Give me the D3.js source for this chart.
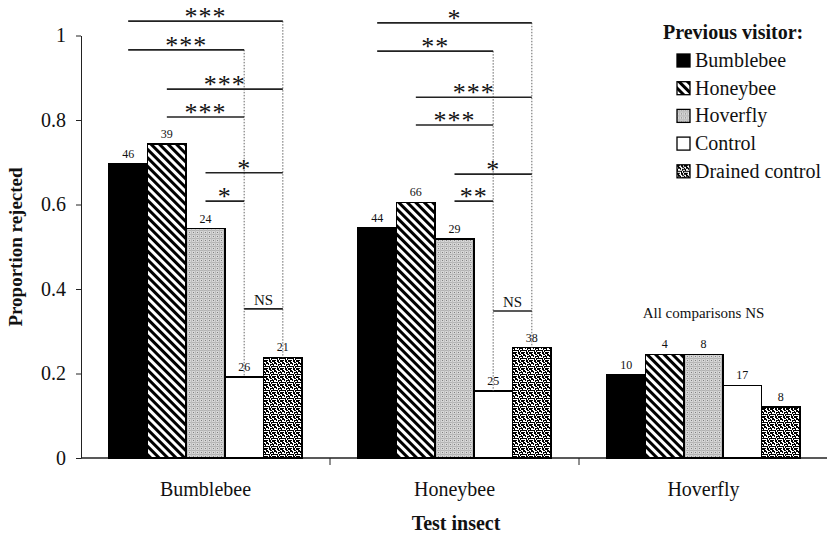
<!DOCTYPE html>
<html>
<head>
<meta charset="utf-8">
<script src="https://cdn.jsdelivr.net/npm/d3@7"></script>
<style>
  body { margin: 0; background: #fff; }
  svg text { font-family: "Liberation Serif", "Times New Roman", serif !important; fill: #111; }
</style>
</head>
<body>
<div id="chart"></div>
<script>
// Data
const testInsects = ["Bumblebee", "Honeybee", "Hoverfly"];
const visitors = ["Bumblebee", "Honeybee", "Hoverfly", "Control", "Drained control"];
const bumblebeeRejected = [0.697, 0.743, 0.543, 0.192, 0.238];
const honeybeeRejected = [0.544, 0.605, 0.518, 0.159, 0.261];
const hoverflyRejected = [0.196, 0.245, 0.245, 0.172, 0.121];
const bumblebeeN = [46, 39, 24, 26, 21];
const honeybeeN = [44, 66, 29, 25, 38];
const hoverflyN = [10, 4, 8, 17, 8];
// comparisons: [from visitor, to visitor, significance, bracket level]
const bumblebeeTests = [
  [0, 4, "***", 1.034], [0, 3, "***", 0.966], [1, 4, "***", 0.873], [1, 3, "***", 0.807],
  [2, 4, "*", 0.675], [2, 3, "*", 0.608], [3, 4, "NS", 0.353]
];
const honeybeeTests = [
  [0, 4, "*", 1.030], [0, 3, "**", 0.963], [1, 4, "***", 0.854], [1, 3, "***", 0.788],
  [2, 4, "*", 0.672], [2, 3, "**", 0.608], [3, 4, "NS", 0.348]
];
const hoverflyTests = [];
const yTicks = [0, 0.2, 0.4, 0.6, 0.8, 1];

const groups = testInsects.map((name, i) => ({
  name: name,
  values: [bumblebeeRejected, honeybeeRejected, hoverflyRejected][i],
  n: [bumblebeeN, honeybeeN, hoverflyN][i],
  tests: [bumblebeeTests, honeybeeTests, hoverflyTests][i]
}));

const width = 827;
const height = 534;
const serif = "'Liberation Serif', 'Times New Roman', serif";

const svg = d3.select("#chart")
  .append("svg")
    .attr("width", width)
    .attr("height", height)
    .style("font-family", serif);

/* patterns */
const defs = svg.append("defs");
const patterns = ["#000", "url(#hatch)", "url(#dots)", "#fff", "url(#drained)"];

defs.append("pattern")
    .attr("id", "hatch")
    .attr("patternUnits", "userSpaceOnUse")
    .attr("width", 6).attr("height", 6)
    .attr("patternTransform", "rotate(-45)")
  .call(p => {
    p.append("rect").attr("width", 6).attr("height", 6).attr("fill", "#fff");
    p.append("rect").attr("width", 3).attr("height", 6).attr("fill", "#000");
  });

defs.append("pattern")
    .attr("id", "dots")
    .attr("patternUnits", "userSpaceOnUse")
    .attr("width", 4).attr("height", 4)
  .call(p => {
    p.append("rect").attr("width", 4).attr("height", 4).attr("fill", "#d6d6d6");
    p.append("rect").attr("y", 2).attr("width", 4).attr("height", 1).attr("fill", "#b4b4b4");
    p.append("rect").attr("x", 2).attr("width", 1).attr("height", 4).attr("fill", "#bebebe");
    p.append("rect").attr("width", 1).attr("height", 1).attr("fill", "#808080");
  });

// squiggly black-on-white texture of the drained control bars
const drainedPath = "M0 0h3v1h-1v1h-2z M4 0h2v2h1v1h-2v-1h-1z M7 0h1v2h-1z " +
  "M1 2h2v1h1v2h-1v-1h-2z M5 4h3v1h-2v1h-1z M0 4h1v2h2v1h-3z " +
  "M3 6h2v2h-1v-1h-1z M6 6h2v1h-1v1h-1z M7 3h1v1h-1z";
defs.append("pattern")
    .attr("id", "drained")
    .attr("patternUnits", "userSpaceOnUse")
    .attr("width", 8).attr("height", 8)
  .call(p => {
    p.append("rect").attr("width", 8).attr("height", 8).attr("fill", "#fff");
    p.append("path").attr("d", drainedPath).attr("fill", "#000")
      .attr("shape-rendering", "crispEdges");
  });

const fillFor = i => patterns[i];

/* scales */
const y = d3.scaleLinear().domain([0, 1]).range([458, 35.5]);
const x0 = d3.scaleBand().domain(testInsects).range([81, 828]);
const x1 = d3.scaleBand().domain(d3.range(visitors.length))
  .range([0, x0.bandwidth()])
  .paddingInner(0).paddingOuter(0.72);
const barCenter = (g, i) => x0(g) + x1(i) + x1.bandwidth() / 2;

/* axes */
const leftAxis = d3.axisLeft(y)
  .tickValues(yTicks)
  .tickFormat(d => String(d))
  .tickSize(5)
  .tickSizeOuter(0)
  .tickPadding(10);
svg.append("g")
    .attr("class", "axis-y")
    .attr("transform", "translate(81,0)")
    .call(leftAxis)
  .call(g => g.attr("font-family", null))
  .call(g => g.selectAll("text").attr("font-size", 20).style("font-family", serif))
  .call(g => g.selectAll("line, path").attr("stroke", "#222"));

svg.append("line")
    .attr("x1", 81).attr("x2", width)
    .attr("y1", y(0)).attr("y2", y(0))
    .attr("stroke", "#222").attr("stroke-width", 1.3);

// group boundary ticks
svg.selectAll(".group-tick")
  .data(testInsects.slice(1))
  .join("line")
    .attr("x1", d => x0(d)).attr("x2", d => x0(d))
    .attr("y1", y(0)).attr("y2", y(0) + 7)
    .attr("stroke", "#222");

// category labels
svg.selectAll(".cat-label")
  .data(testInsects)
  .join("text")
    .attr("x", d => x0(d) + x0.bandwidth() / 2)
    .attr("y", 496)
    .attr("text-anchor", "middle")
    .attr("font-size", 20)
    .text(d => d);

svg.append("text")
    .attr("x", 456).attr("y", 530)
    .attr("text-anchor", "middle")
    .attr("font-size", 20).attr("font-weight", "bold")
    .text("Test insect");

svg.append("text")
    .attr("transform", "translate(22,247) rotate(-90)")
    .attr("text-anchor", "middle")
    .attr("font-size", 19).attr("font-weight", "bold")
    .text("Proportion rejected");

/* bars */
const groupG = svg.selectAll(".group")
  .data(groups)
  .join("g")
    .attr("class", "group")
    .attr("transform", d => `translate(${x0(d.name)},0)`);

groupG.selectAll("rect")
  .data(d => d.values.map((v, i) => ({ v: v, i: i, n: d.n[i] })))
  .join("rect")
    .attr("x", d => x1(d.i))
    .attr("y", d => y(d.v))
    .attr("width", x1.bandwidth())
    .attr("height", d => y(0) - y(d.v))
    .attr("fill", d => fillFor(d.i))
    .attr("stroke", "#000")
    .attr("stroke-width", 1.5)
    .attr("shape-rendering", "crispEdges");

groupG.selectAll(".count")
  .data(d => d.values.map((v, i) => ({ v: v, i: i, n: d.n[i] })))
  .join("text")
    .attr("class", "count")
    .attr("x", d => x1(d.i) + x1.bandwidth() / 2)
    .attr("y", d => y(d.v) - 6)
    .attr("text-anchor", "middle")
    .attr("font-size", 12)
    .text(d => d.n);

/* significance brackets */
groups.forEach(g => {
  if (!g.tests.length) return;
  const layer = svg.append("g");
  // dotted drop lines at the control and drained control bars
  [3, 4].forEach(k => {
    const top = d3.max(g.tests.filter(t => t[1] === k || t[0] === k), t => t[3]);
    layer.append("line")
      .attr("x1", barCenter(g.name, k)).attr("x2", barCenter(g.name, k))
      .attr("y1", y(top)).attr("y2", y(g.values[k]))
      .attr("stroke", "#666").attr("stroke-width", 1)
      .attr("stroke-dasharray", "1.5,1.5");
  });
  g.tests.forEach(t => {
    const xa = barCenter(g.name, t[0]);
    const xb = barCenter(g.name, t[1]);
    layer.append("line")
      .attr("x1", xa).attr("x2", xb)
      .attr("y1", y(t[3])).attr("y2", y(t[3]))
      .attr("stroke", "#222").attr("stroke-width", 1.6);
    const isNS = t[2] === "NS";
    layer.append("text")
      .attr("x", (xa + xb) / 2)
      .attr("y", isNS ? y(t[3]) - 4 : y(t[3]) + 4)
      .attr("text-anchor", "middle")
      .attr("font-size", isNS ? 15 : 26)
      .attr("letter-spacing", isNS ? 0 : 1)
      .text(t[2]);
  });
});

svg.append("text")
    .attr("x", x0("Hoverfly") + x0.bandwidth() / 2)
    .attr("y", 318)
    .attr("text-anchor", "middle")
    .attr("font-size", 15)
    .text("All comparisons NS");

/* legend */
const legend = svg.append("g").attr("transform", "translate(663,0)");
legend.append("text")
    .attr("x", 0).attr("y", 39)
    .attr("font-size", 20).attr("font-weight", "bold")
    .text("Previous visitor:");

const item = legend.selectAll(".item")
  .data(visitors)
  .join("g")
    .attr("transform", (d, i) => `translate(14,${54 + i * 27.7})`);
item.append("rect")
    .attr("width", 13).attr("height", 13)
    .attr("fill", (d, i) => fillFor(i))
    .attr("stroke", "#000").attr("stroke-width", 1.3);
item.append("text")
    .attr("x", 18).attr("y", 13)
    .attr("font-size", 20)
    .text(d => d);
</script>
</body>
</html>
